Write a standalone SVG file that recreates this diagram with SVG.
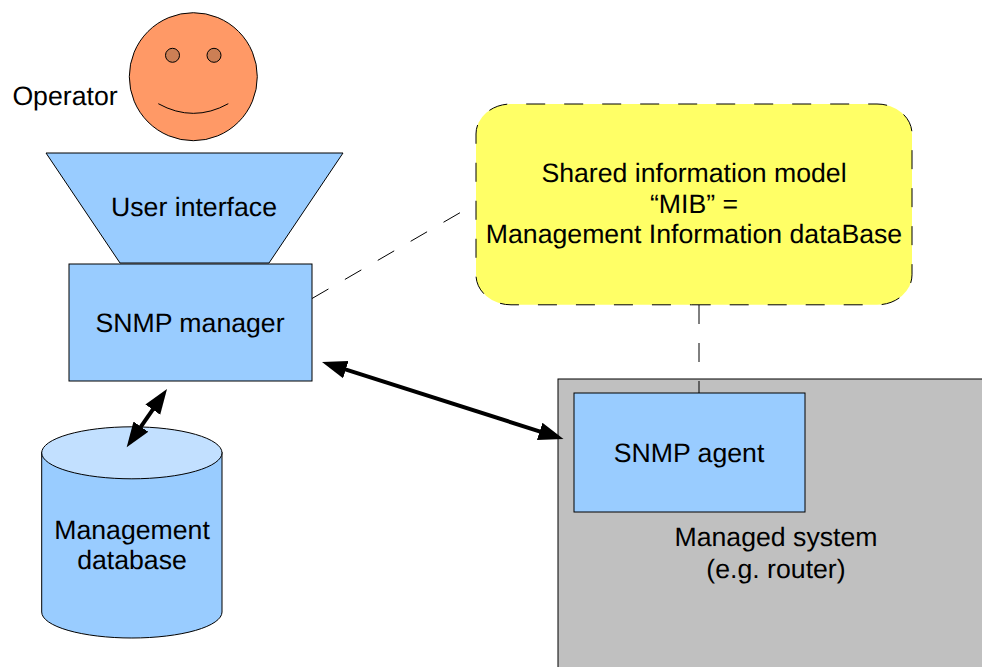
<svg xmlns="http://www.w3.org/2000/svg" width="982" height="667" viewBox="0 0 982 667">
<defs>
<marker id="ah" markerUnits="userSpaceOnUse" markerWidth="26" markerHeight="20" refX="3" refY="10" orient="auto-start-reverse"><path d="M0 1L25 10L0 19Z" fill="#000"/></marker>
</defs>
<style>
text{font-family:"Liberation Sans",Arial,sans-serif;font-size:26.67px;fill:#000;text-anchor:middle;text-rendering:geometricPrecision}
.b{fill:#99ccff;stroke:#000;stroke-width:1}
.d{fill:none;stroke:#000;stroke-width:1;stroke-dasharray:19 19}
.a{fill:none;stroke:#000;stroke-width:4;marker-start:url(#ah);marker-end:url(#ah)}
</style>
<rect width="982" height="667" fill="#fff"/>
<g id="managed-system"><rect x="558" y="379" width="430" height="295" fill="#c0c0c0" stroke="#000"/><text x="776" y="546">Managed system</text><text x="776" y="578">(e.g. router)</text></g>
<g id="operator"><text x="65" y="105">Operator</text><circle cx="193.300" cy="76.700" r="64" fill="#ff9966" stroke="#000"/><circle cx="172.500" cy="55.300" r="7" fill="#cc7f55" stroke="#000"/><circle cx="214" cy="55.300" r="7" fill="#cc7f55" stroke="#000"/><path d="M158.300 103.700Q193.300 123 228.300 103.700" fill="none" stroke="#000"/></g>
<g id="user-interface"><path class="b" d="M46 153H343L269 263H120Z"/><text x="194" y="216">User interface</text></g>
<g id="snmp-manager"><rect class="b" x="69" y="264" width="243" height="117"/><text x="190" y="332">SNMP manager</text></g>
<g id="management-database"><path class="b" d="M41.700 452V612A90.150 26 0 0 0 222 612V452Z"/><ellipse cx="131.850" cy="452.800" rx="90.150" ry="26" fill="#c2e0ff" stroke="#000"/><text x="132" y="539">Management</text><text x="132" y="569">database</text></g>
<g id="mib"><path d="M691.700 304.800H877A35 30 0 0 0 912 274.800V134A35 30 0 0 0 877 104H511A35 30 0 0 0 476 134V274.800A35 30 0 0 0 511 304.800Z" fill="#ffff66" stroke="#000" stroke-dasharray="19 19"/><text x="694" y="182">Shared information model</text><text x="694" y="213">“MIB” =</text><text x="694" y="243">Management Information dataBase</text></g>
<g id="snmp-agent"><rect class="b" x="574" y="393" width="231" height="119"/><text x="689" y="462">SNMP agent</text></g>
<g id="connectors">
<path class="d" d="M312 298.500L460 212.700"/>
<path class="d" d="M699 305V393"/>
<path class="a" d="M342.960 368.680L542.540 432.320"/>
<path class="a" d="M154.490 407.100L139.210 429.200"/>
</g>
</svg>
